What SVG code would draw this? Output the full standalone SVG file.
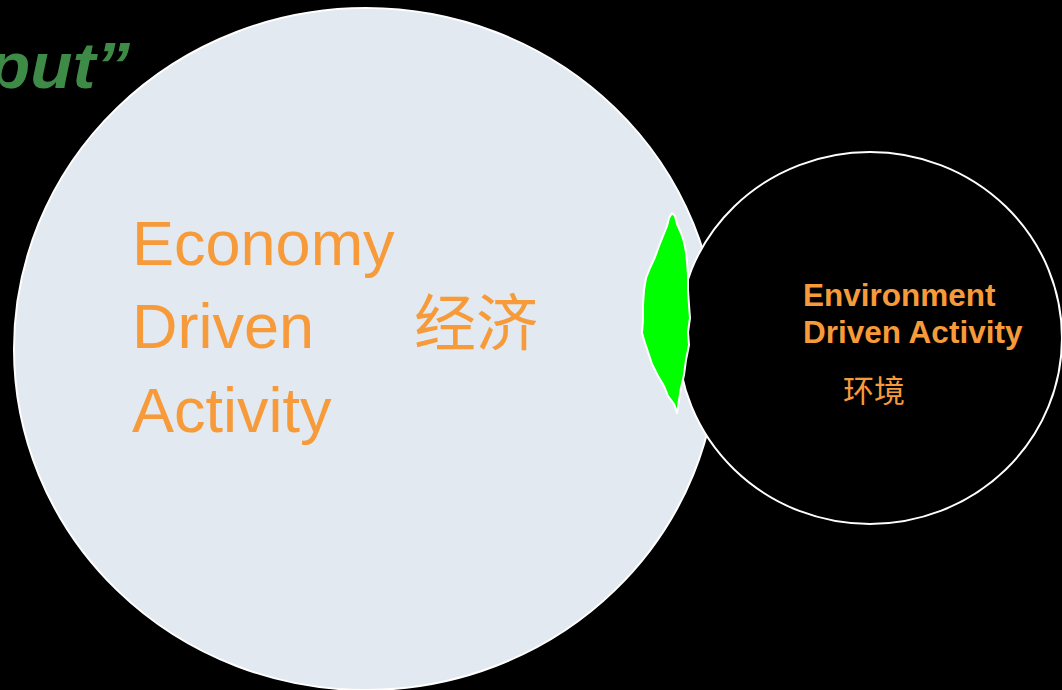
<svg xmlns="http://www.w3.org/2000/svg" width="1062" height="690" viewBox="0 0 1062 690">
<style>
.or{fill:#F79A3A;font-family:"Liberation Sans",Arial,sans-serif}
.cjk{fill:#F79A3A;font-family:"Liberation Serif","Noto Sans CJK SC",serif}
</style>
<rect width="1062" height="690" fill="#000"/>
<g id="title"><text x="-12" y="88" font-family="Liberation Sans,Arial,sans-serif" font-weight="bold" font-style="italic" font-size="64" textLength="142" lengthAdjust="spacingAndGlyphs" fill="#3E8B47">put”</text></g>
<g id="economy">
<ellipse cx="366" cy="349" rx="352" ry="341" fill="#E2E9F0" stroke="#fff" stroke-width="2"/>
<text class="or" x="132" y="265" font-size="63">Economy</text>
<text class="or" x="132" y="348" font-size="63">Driven</text>
<text class="or" x="132" y="432" font-size="63">Activity</text>
<text class="cjk" x="414" y="346" font-size="62">经济</text>
</g>
<g id="environment">
<ellipse cx="870" cy="338" rx="192" ry="186" fill="#000" stroke="#fff" stroke-width="2"/>
<text class="or" x="803" y="306" font-size="31.5" font-weight="bold">Environment</text>
<text class="or" x="803" y="343" font-size="31.5" font-weight="bold">Driven Activity</text>
<text class="cjk" x="843" y="402" font-size="31">环境</text>
</g>
<g id="overlap">
<path d="M672,213 L675,216 L677,224 L681,233 L684,242 L686,252 L687,262 L688,275 L688,290 L689,305 L690,318 L688,332 L689,345 L686,360 L684,375 L681,388 L679,400 L677,413 L674,404 L668,396 L664,386 L658,376 L652,364 L648,352 L645,343 L642,333 L643,320 L643,305 L644,290 L646,278 L650,268 L655,257 L659,246 L663,236 L667,226 L669,218 Z" fill="#00FF00" stroke="#fff" stroke-width="2" stroke-linejoin="round"/>
</g>
</svg>
